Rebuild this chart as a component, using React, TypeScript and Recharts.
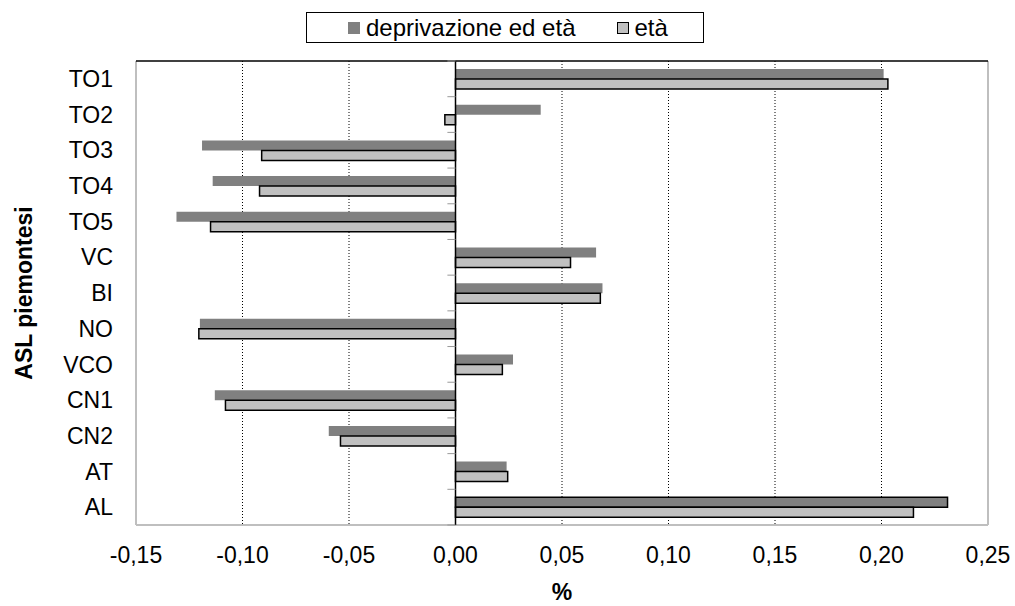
import React from 'react';
import {
  BarChart,
  Bar,
  Cell,
  XAxis,
  YAxis,
  CartesianGrid,
  ReferenceLine,
  Legend,
} from 'recharts';

// ASL piemontesi, dall'alto verso il basso
const categories = ['TO1', 'TO2', 'TO3', 'TO4', 'TO5', 'VC', 'BI', 'NO', 'VCO', 'CN1', 'CN2', 'AT', 'AL'];
const deprivazioneEta = [0.201, 0.04, -0.119, -0.114, -0.131, 0.066, 0.069, -0.12, 0.027, -0.113, -0.0595, 0.024, 0.231];
const eta = [0.203, -0.005, -0.091, -0.092, -0.115, 0.054, 0.068, -0.1205, 0.022, -0.108, -0.054, 0.0245, 0.215];
const seriesNames = ['deprivazione ed età', 'età'];
const xTicks = [-0.15, -0.1, -0.05, 0, 0.05, 0.1, 0.15, 0.2, 0.25];
const xDomain: [number, number] = [-0.15, 0.25];
const outlinedDep = ['AL'];

const FONT = '"Liberation Sans", Arial, sans-serif';
const DARK = '#808080';
const LIGHT = '#c0c0c0';
const BORDER = '#bfbfbf';
const ZERO_TICK = 0.0038; // lunghezza delle tacche sull'asse zero

const data = categories.map((asl, i) => ({
  asl,
  dep: deprivazioneEta[i],
  eta: eta[i],
}));

const formatTick = (v: number) => v.toFixed(2).replace('.', ',');

const renderLegend = () => (
  <div
    style={{
      boxSizing: 'border-box',
      width: 398,
      height: 31,
      border: '1.5px solid #000',
      background: '#fff',
      display: 'flex',
      alignItems: 'center',
      paddingLeft: 41,
      fontFamily: FONT,
      fontSize: 24,
      lineHeight: '26px',
      color: '#000',
    }}
  >
    <span style={{ display: 'inline-block', width: 12, height: 12, background: DARK, marginRight: 6 }} />
    <span>{seriesNames[0]}</span>
    <span
      style={{
        display: 'inline-block',
        boxSizing: 'border-box',
        width: 12,
        height: 12,
        background: LIGHT,
        border: '1.5px solid #000',
        marginLeft: 42,
        marginRight: 5,
      }}
    />
    <span>{seriesNames[1]}</span>
  </div>
);

const YTitle = (props: any) => {
  const vb = props.viewBox || { x: 0, y: 61, width: 136, height: 464 };
  const cy = vb.y + vb.height / 2;
  const x = vb.x + 32;
  return (
    <text
      x={x}
      y={cy}
      transform={`rotate(-90, ${x}, ${cy})`}
      textAnchor="middle"
      fontFamily={FONT}
      fontSize={23}
      fontWeight="bold"
      fill="#000"
    >
      ASL piemontesi
    </text>
  );
};

const XTitle = (props: any) => {
  const vb = props.viewBox || { x: 136, y: 525, width: 852, height: 81 };
  return (
    <text
      x={vb.x + vb.width / 2}
      y={vb.y + 75}
      textAnchor="middle"
      fontFamily={FONT}
      fontSize={23}
      fontWeight="bold"
      fill="#000"
    >
      %
    </text>
  );
};

const EmptyTick = () => <g />;

export default function App() {
  const last = categories[categories.length - 1];
  return (
    <div style={{ position: 'absolute', left: 0, top: 0, width: 1015, height: 606, background: '#fff' }}>
      <BarChart
        width={1015}
        height={606}
        data={data}
        layout="vertical"
        margin={{ top: 61, right: 27, left: 0, bottom: 0 }}
        barSize={10}
        barGap={0}
      >
        <CartesianGrid horizontal={false} stroke="#000" strokeDasharray="1 2" />
        <XAxis
          type="number"
          domain={xDomain}
          ticks={xTicks}
          allowDataOverflow
          height={81}
          axisLine={false}
          tickLine={false}
          tickSize={0}
          tickMargin={22}
          tickFormatter={formatTick}
          tick={{ fontSize: 23, fill: '#000', fontFamily: FONT }}
          label={<XTitle />}
        />
        <XAxis
          xAxisId="top"
          orientation="top"
          type="number"
          domain={xDomain}
          ticks={xTicks}
          allowDataOverflow
          height={0}
          axisLine={{ stroke: '#000', strokeWidth: 1.5 }}
          tickLine={{ stroke: '#555' }}
          tickSize={8}
          tick={<EmptyTick />}
        />
        <YAxis
          type="category"
          dataKey="asl"
          width={136}
          axisLine={false}
          tickLine={false}
          tickSize={0}
          tickMargin={23}
          tick={{ fontSize: 23, fill: '#000', fontFamily: FONT }}
          label={<YTitle />}
        />
        <ReferenceLine x={-0.15} stroke={BORDER} strokeWidth={2} />
        <ReferenceLine x={0.25} stroke={BORDER} strokeWidth={2} />
        <ReferenceLine y={last} position="end" stroke={BORDER} strokeWidth={2} />
        <ReferenceLine y={categories[0]} position="start" stroke="#000" strokeWidth={1.5} />
        <Legend
          layout="horizontal"
          verticalAlign="middle"
          align="center"
          wrapperStyle={{ top: 12, left: 306, width: 398, height: 31 }}
          content={renderLegend}
        />
        <Bar dataKey="dep" name={seriesNames[0]} fill={DARK} isAnimationActive={false}>
          {data.map((d) => (
            <Cell
              key={d.asl}
              fill={DARK}
              stroke={outlinedDep.includes(d.asl) ? '#000' : 'none'}
              strokeWidth={1.5}
            />
          ))}
        </Bar>
        <Bar
          dataKey="eta"
          name={seriesNames[1]}
          fill={LIGHT}
          stroke="#000"
          strokeWidth={1.5}
          isAnimationActive={false}
        />
        <ReferenceLine x={0} stroke="#000" strokeWidth={1.5} />
        {categories.map((c) => (
          <ReferenceLine
            key={`tick-${c}`}
            segment={[{ x: -ZERO_TICK, y: c }, { x: 0, y: c }]}
            position="start"
            stroke="#999"
          />
        ))}
        <ReferenceLine
          segment={[
            { x: -ZERO_TICK, y: last },
            { x: 0, y: last },
          ]}
          position="end"
          stroke="#999"
        />
      </BarChart>
    </div>
  );
}
